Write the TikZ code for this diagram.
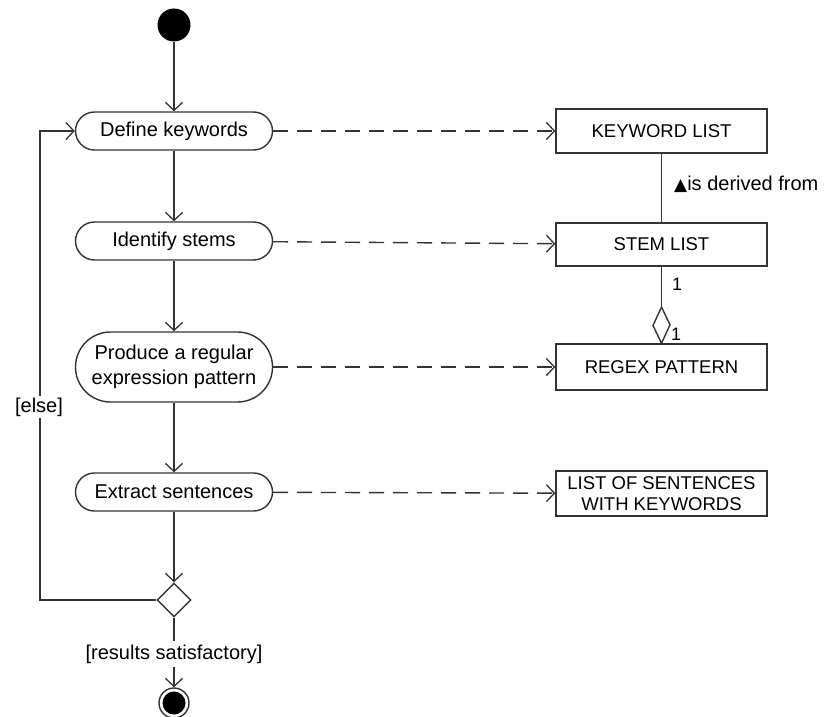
\documentclass[tikz,border=0pt]{standalone}
\usepackage{fontspec}
\setmainfont{Liberation Sans}
\newfontfamily\symfont{DejaVu Sans}
\usetikzlibrary{arrows.meta,shapes.geometric}
\definecolor{ink}{HTML}{333333}
\begin{document}
\begin{tikzpicture}[x=1pt,y=-1pt,
  line/.style={draw=ink,line width=1.4pt},
  flow/.style={line,-{Straight Barb[length=8pt,width=17pt,line width=1.3pt]}},
  dep/.style={flow,dash pattern=on 15pt off 9pt},
  act/.style={line,fill=white,rectangle,minimum width=197pt,inner sep=0pt,
    font=\fontsize{20}{25}\selectfont,align=center},
  obj/.style={line,fill=white,rectangle,minimum width=211pt,inner sep=0pt,
    font=\fontsize{18.5}{21}\selectfont,align=center},
  lbl/.style={inner sep=1pt,font=\fontsize{20}{24}\selectfont}]
\useasboundingbox (0,0) rectangle (827,717);

% activity flow
\node[circle,fill=black,minimum size=33pt,inner sep=0pt] (start) at (174,25) {};
\node[act,minimum height=38pt,rounded corners=19pt] (define) at (174,131) {Define keywords};
\node[act,minimum height=38pt,rounded corners=19pt] (stems) at (174,241) {Identify stems};
\node[act,minimum height=70pt,rounded corners=35pt] (produce) at (174,367) {Produce a regular\\expression pattern};
\node[act,minimum height=38pt,rounded corners=19pt] (extract) at (174,492) {Extract sentences};
\node[diamond,line,fill=white,minimum size=34pt,inner sep=0pt] (dec) at (174,600) {};
\node[circle,line,minimum size=30pt,inner sep=0pt] (endn) at (174,703) {};
\fill[black] (endn.center) circle (11.5pt);

\draw[flow] (start) -- (define);
\draw[flow] (define) -- (stems);
\draw[flow] (stems) -- (produce);
\draw[flow] (produce) -- (extract);
\draw[flow] (extract) -- (dec);
\coordinate (loop) at (40,600);
\draw[flow] (dec.west) -- (loop) |- (define.west);
\node[lbl,fill=white,inner sep=2pt] (else) at (39,407) {[else]};
\draw[flow] (dec.south) -- (endn);
\node[lbl,fill=white,inner sep=3.5pt] (sat) at (174,654) {[results satisfactory]};

% object nodes
\node[obj,minimum height=44pt] (kw) at (661.5,131) {KEYWORD LIST};
\node[obj,minimum height=43pt] (stem) at (661.5,244.5) {STEM LIST};
\node[obj,minimum height=46pt] (regex) at (661.5,367) {REGEX PATTERN};
\node[obj,minimum height=45pt] (sent) at (661.5,493.5) {LIST OF SENTENCES\\WITH KEYWORDS};

\draw[dep] (define) -- (kw);
\draw[dep] (stems) -- (stem);
\draw[dep] (produce) -- (regex);
\draw[dep] (extract) -- (sent);

% associations
\draw[line] (kw) -- (stem);
\node[lbl,anchor=west,inner sep=0pt] (derived) at (674,184)
  {{\symfont\fontsize{17}{17}\selectfont ▲}is derived from};
\coordinate (aggtop) at (661.5,307);
\draw[line] (stem) -- (aggtop);
\draw[line,fill=white] (regex.north) -- ++(8.5,-18.5) -- (aggtop) -- ++(-8.5,18.5) -- cycle;
\node[lbl,font=\fontsize{18}{20}\selectfont,inner sep=0pt] (m1) at (677,284) {1};
\node[lbl,font=\fontsize{18}{20}\selectfont,fill=white,inner sep=1pt] (m2) at (676,334) {1};
\end{tikzpicture}
\end{document}
